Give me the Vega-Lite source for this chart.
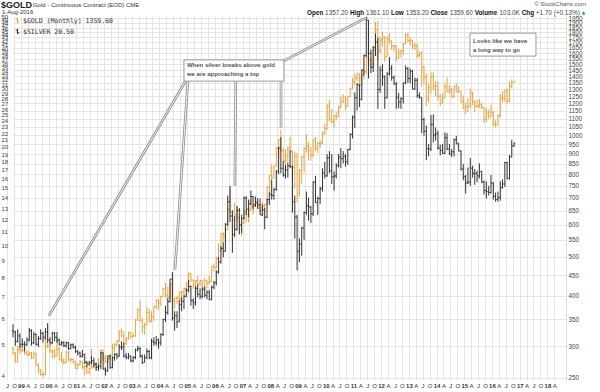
{
"$schema":"https://vega.github.io/schema/vega-lite/v6.json",
"width":553,"height":364,
"autosize":"none",
"padding":{"left":13,"top":16,"right":34,"bottom":12},
"background":"white",
"config":{"view":{"stroke":null},"font":"Liberation Sans"},
"datasets":{
"gold":[
{"d":"1998-07-01","o":296,"h":298,"l":286,"c":288},
{"d":"1998-08-01","o":288,"h":290,"l":273,"c":274},
{"d":"1998-09-01","o":274,"h":301,"l":273,"c":294},
{"d":"1998-10-01","o":294,"h":302,"l":287,"c":292},
{"d":"1998-11-01","o":292,"h":300,"l":290,"c":294},
{"d":"1998-12-01","o":294,"h":298,"l":285,"c":289},
{"d":"1999-01-01","o":289,"h":293,"l":283,"c":285},
{"d":"1999-02-01","o":285,"h":291,"l":284,"c":288},
{"d":"1999-03-01","o":288,"h":290,"l":278,"c":280},
{"d":"1999-04-01","o":280,"h":290,"l":279,"c":287},
{"d":"1999-05-01","o":287,"h":289,"l":268,"c":269},
{"d":"1999-06-01","o":269,"h":272,"l":256,"c":262},
{"d":"1999-07-01","o":262,"h":263,"l":253,"c":255},
{"d":"1999-08-01","o":255,"h":259,"l":251,"c":255},
{"d":"1999-09-01","o":255,"h":310,"l":254,"c":300},
{"d":"1999-10-01","o":300,"h":340,"l":296,"c":300},
{"d":"1999-11-01","o":300,"h":303,"l":288,"c":292},
{"d":"1999-12-01","o":292,"h":294,"l":280,"c":290},
{"d":"2000-01-01","o":290,"h":295,"l":280,"c":284},
{"d":"2000-02-01","o":284,"h":316,"l":283,"c":295},
{"d":"2000-03-01","o":295,"h":298,"l":276,"c":278},
{"d":"2000-04-01","o":278,"h":290,"l":273,"c":275},
{"d":"2000-05-01","o":275,"h":280,"l":270,"c":273},
{"d":"2000-06-01","o":273,"h":292,"l":272,"c":290},
{"d":"2000-07-01","o":290,"h":291,"l":276,"c":277},
{"d":"2000-08-01","o":277,"h":280,"l":273,"c":278},
{"d":"2000-09-01","o":278,"h":280,"l":271,"c":274},
{"d":"2000-10-01","o":274,"h":276,"l":263,"c":264},
{"d":"2000-11-01","o":264,"h":272,"l":263,"c":270},
{"d":"2000-12-01","o":270,"h":277,"l":268,"c":274},
{"d":"2001-01-01","o":274,"h":275,"l":263,"c":266},
{"d":"2001-02-01","o":266,"h":269,"l":254,"c":267},
{"d":"2001-03-01","o":267,"h":268,"l":256,"c":258},
{"d":"2001-04-01","o":258,"h":265,"l":255,"c":264},
{"d":"2001-05-01","o":264,"h":295,"l":264,"c":267},
{"d":"2001-06-01","o":267,"h":274,"l":264,"c":270},
{"d":"2001-07-01","o":270,"h":272,"l":262,"c":266},
{"d":"2001-08-01","o":266,"h":280,"l":266,"c":273},
{"d":"2001-09-01","o":273,"h":294,"l":271,"c":293},
{"d":"2001-10-01","o":293,"h":294,"l":276,"c":280},
{"d":"2001-11-01","o":280,"h":285,"l":272,"c":275},
{"d":"2001-12-01","o":275,"h":282,"l":272,"c":279},
{"d":"2002-01-01","o":279,"h":286,"l":277,"c":283},
{"d":"2002-02-01","o":283,"h":304,"l":282,"c":297},
{"d":"2002-03-01","o":297,"h":305,"l":290,"c":302},
{"d":"2002-04-01","o":302,"h":310,"l":299,"c":309},
{"d":"2002-05-01","o":309,"h":328,"l":307,"c":327},
{"d":"2002-06-01","o":327,"h":332,"l":316,"c":318},
{"d":"2002-07-01","o":318,"h":327,"l":302,"c":304},
{"d":"2002-08-01","o":304,"h":316,"l":302,"c":313},
{"d":"2002-09-01","o":313,"h":326,"l":311,"c":324},
{"d":"2002-10-01","o":324,"h":325,"l":312,"c":317},
{"d":"2002-11-01","o":317,"h":323,"l":316,"c":318},
{"d":"2002-12-01","o":318,"h":350,"l":316,"c":348},
{"d":"2003-01-01","o":348,"h":373,"l":346,"c":368},
{"d":"2003-02-01","o":368,"h":389,"l":345,"c":347},
{"d":"2003-03-01","o":347,"h":352,"l":322,"c":335},
{"d":"2003-04-01","o":335,"h":342,"l":320,"c":340},
{"d":"2003-05-01","o":340,"h":375,"l":337,"c":364},
{"d":"2003-06-01","o":364,"h":371,"l":342,"c":346},
{"d":"2003-07-01","o":346,"h":366,"l":343,"c":355},
{"d":"2003-08-01","o":355,"h":377,"l":346,"c":376},
{"d":"2003-09-01","o":376,"h":393,"l":370,"c":388},
{"d":"2003-10-01","o":388,"h":392,"l":369,"c":384},
{"d":"2003-11-01","o":384,"h":400,"l":377,"c":398},
{"d":"2003-12-01","o":398,"h":418,"l":398,"c":416},
{"d":"2004-01-01","o":416,"h":430,"l":396,"c":400},
{"d":"2004-02-01","o":400,"h":421,"l":392,"c":397},
{"d":"2004-03-01","o":397,"h":428,"l":392,"c":427},
{"d":"2004-04-01","o":427,"h":432,"l":383,"c":388},
{"d":"2004-05-01","o":388,"h":396,"l":372,"c":394},
{"d":"2004-06-01","o":394,"h":398,"l":382,"c":395},
{"d":"2004-07-01","o":395,"h":411,"l":386,"c":391},
{"d":"2004-08-01","o":391,"h":412,"l":388,"c":408},
{"d":"2004-09-01","o":408,"h":419,"l":400,"c":416},
{"d":"2004-10-01","o":416,"h":432,"l":409,"c":428},
{"d":"2004-11-01","o":428,"h":457,"l":427,"c":453},
{"d":"2004-12-01","o":453,"h":456,"l":432,"c":438},
{"d":"2005-01-01","o":438,"h":438,"l":416,"c":423},
{"d":"2005-02-01","o":423,"h":438,"l":411,"c":436},
{"d":"2005-03-01","o":436,"h":448,"l":425,"c":428},
{"d":"2005-04-01","o":428,"h":438,"l":421,"c":436},
{"d":"2005-05-01","o":436,"h":436,"l":414,"c":416},
{"d":"2005-06-01","o":416,"h":443,"l":414,"c":436},
{"d":"2005-07-01","o":436,"h":438,"l":417,"c":430},
{"d":"2005-08-01","o":430,"h":448,"l":428,"c":434},
{"d":"2005-09-01","o":434,"h":475,"l":432,"c":473},
{"d":"2005-10-01","o":473,"h":481,"l":459,"c":470},
{"d":"2005-11-01","o":470,"h":499,"l":467,"c":495},
{"d":"2005-12-01","o":495,"h":540,"l":491,"c":518},
{"d":"2006-01-01","o":518,"h":572,"l":515,"c":570},
{"d":"2006-02-01","o":570,"h":575,"l":538,"c":564},
{"d":"2006-03-01","o":564,"h":588,"l":542,"c":584},
{"d":"2006-04-01","o":584,"h":660,"l":584,"c":655},
{"d":"2006-05-01","o":655,"h":732,"l":640,"c":645},
{"d":"2006-06-01","o":645,"h":650,"l":543,"c":616},
{"d":"2006-07-01","o":616,"h":680,"l":615,"c":635},
{"d":"2006-08-01","o":635,"h":665,"l":612,"c":626},
{"d":"2006-09-01","o":626,"h":632,"l":573,"c":599},
{"d":"2006-10-01","o":599,"h":612,"l":563,"c":606},
{"d":"2006-11-01","o":606,"h":650,"l":602,"c":648},
{"d":"2006-12-01","o":648,"h":650,"l":610,"c":636},
{"d":"2007-01-01","o":636,"h":660,"l":608,"c":653},
{"d":"2007-02-01","o":653,"h":691,"l":650,"c":665},
{"d":"2007-03-01","o":665,"h":670,"l":636,"c":669},
{"d":"2007-04-01","o":669,"h":697,"l":667,"c":681},
{"d":"2007-05-01","o":681,"h":691,"l":656,"c":660},
{"d":"2007-06-01","o":660,"h":674,"l":642,"c":650},
{"d":"2007-07-01","o":650,"h":683,"l":647,"c":667},
{"d":"2007-08-01","o":667,"h":677,"l":650,"c":673},
{"d":"2007-09-01","o":673,"h":746,"l":670,"c":743},
{"d":"2007-10-01","o":743,"h":796,"l":727,"c":795},
{"d":"2007-11-01","o":795,"h":848,"l":780,"c":783},
{"d":"2007-12-01","o":783,"h":840,"l":783,"c":838},
{"d":"2008-01-01","o":838,"h":935,"l":838,"c":926},
{"d":"2008-02-01","o":926,"h":978,"l":880,"c":975},
{"d":"2008-03-01","o":975,"h":1033,"l":908,"c":917},
{"d":"2008-04-01","o":917,"h":933,"l":862,"c":865},
{"d":"2008-05-01","o":865,"h":923,"l":847,"c":887},
{"d":"2008-06-01","o":887,"h":939,"l":860,"c":930},
{"d":"2008-07-01","o":930,"h":991,"l":905,"c":914},
{"d":"2008-08-01","o":914,"h":917,"l":774,"c":833},
{"d":"2008-09-01","o":833,"h":912,"l":737,"c":884},
{"d":"2008-10-01","o":884,"h":905,"l":681,"c":718},
{"d":"2008-11-01","o":718,"h":824,"l":705,"c":819},
{"d":"2008-12-01","o":819,"h":889,"l":759,"c":884},
{"d":"2009-01-01","o":884,"h":936,"l":809,"c":927},
{"d":"2009-02-01","o":927,"h":1007,"l":907,"c":942},
{"d":"2009-03-01","o":942,"h":960,"l":866,"c":916},
{"d":"2009-04-01","o":916,"h":935,"l":865,"c":891},
{"d":"2009-05-01","o":891,"h":979,"l":885,"c":979},
{"d":"2009-06-01","o":979,"h":990,"l":914,"c":927},
{"d":"2009-07-01","o":927,"h":962,"l":904,"c":955},
{"d":"2009-08-01","o":955,"h":975,"l":931,"c":955},
{"d":"2009-09-01","o":955,"h":1024,"l":951,"c":1008},
{"d":"2009-10-01","o":1008,"h":1070,"l":1004,"c":1040},
{"d":"2009-11-01","o":1040,"h":1195,"l":1034,"c":1182},
{"d":"2009-12-01","o":1182,"h":1227,"l":1084,"c":1097},
{"d":"2010-01-01","o":1097,"h":1162,"l":1072,"c":1082},
{"d":"2010-02-01","o":1082,"h":1125,"l":1045,"c":1118},
{"d":"2010-03-01","o":1118,"h":1143,"l":1088,"c":1113},
{"d":"2010-04-01","o":1113,"h":1180,"l":1111,"c":1180},
{"d":"2010-05-01","o":1180,"h":1249,"l":1165,"c":1214},
{"d":"2010-06-01","o":1214,"h":1265,"l":1203,"c":1245},
{"d":"2010-07-01","o":1245,"h":1246,"l":1155,"c":1181},
{"d":"2010-08-01","o":1181,"h":1250,"l":1176,"c":1248},
{"d":"2010-09-01","o":1248,"h":1311,"l":1242,"c":1309},
{"d":"2010-10-01","o":1309,"h":1388,"l":1305,"c":1359},
{"d":"2010-11-01","o":1359,"h":1424,"l":1331,"c":1386},
{"d":"2010-12-01","o":1386,"h":1432,"l":1360,"c":1421},
{"d":"2011-01-01","o":1421,"h":1424,"l":1309,"c":1333},
{"d":"2011-02-01","o":1333,"h":1413,"l":1326,"c":1411},
{"d":"2011-03-01","o":1411,"h":1448,"l":1380,"c":1439},
{"d":"2011-04-01","o":1439,"h":1574,"l":1420,"c":1556},
{"d":"2011-05-01","o":1556,"h":1578,"l":1462,"c":1536},
{"d":"2011-06-01","o":1536,"h":1560,"l":1478,"c":1502},
{"d":"2011-07-01","o":1502,"h":1633,"l":1478,"c":1628},
{"d":"2011-08-01","o":1628,"h":1912,"l":1610,"c":1828},
{"d":"2011-09-01","o":1828,"h":1923,"l":1535,"c":1620},
{"d":"2011-10-01","o":1620,"h":1760,"l":1600,"c":1725},
{"d":"2011-11-01","o":1725,"h":1804,"l":1666,"c":1746},
{"d":"2011-12-01","o":1746,"h":1764,"l":1523,"c":1566},
{"d":"2012-01-01","o":1566,"h":1764,"l":1566,"c":1738},
{"d":"2012-02-01","o":1738,"h":1792,"l":1688,"c":1711},
{"d":"2012-03-01","o":1711,"h":1721,"l":1627,"c":1669},
{"d":"2012-04-01","o":1669,"h":1678,"l":1613,"c":1664},
{"d":"2012-05-01","o":1664,"h":1670,"l":1527,"c":1561},
{"d":"2012-06-01","o":1561,"h":1640,"l":1548,"c":1604},
{"d":"2012-07-01","o":1604,"h":1630,"l":1558,"c":1622},
{"d":"2012-08-01","o":1622,"h":1694,"l":1584,"c":1687},
{"d":"2012-09-01","o":1687,"h":1791,"l":1684,"c":1776},
{"d":"2012-10-01","o":1776,"h":1798,"l":1700,"c":1719},
{"d":"2012-11-01","o":1719,"h":1755,"l":1672,"c":1712},
{"d":"2012-12-01","o":1712,"h":1726,"l":1635,"c":1675},
{"d":"2013-01-01","o":1675,"h":1697,"l":1626,"c":1663},
{"d":"2013-02-01","o":1663,"h":1691,"l":1555,"c":1578},
{"d":"2013-03-01","o":1578,"h":1617,"l":1562,"c":1595},
{"d":"2013-04-01","o":1595,"h":1617,"l":1321,"c":1476},
{"d":"2013-05-01","o":1476,"h":1488,"l":1338,"c":1393},
{"d":"2013-06-01","o":1393,"h":1424,"l":1180,"c":1234},
{"d":"2013-07-01","o":1234,"h":1348,"l":1207,"c":1313},
{"d":"2013-08-01","o":1313,"h":1434,"l":1271,"c":1396},
{"d":"2013-09-01","o":1396,"h":1434,"l":1292,"c":1327},
{"d":"2013-10-01","o":1327,"h":1362,"l":1251,"c":1323},
{"d":"2013-11-01","o":1323,"h":1362,"l":1221,"c":1250},
{"d":"2013-12-01","o":1250,"h":1267,"l":1182,"c":1202},
{"d":"2014-01-01","o":1202,"h":1270,"l":1202,"c":1240},
{"d":"2014-02-01","o":1240,"h":1346,"l":1237,"c":1321},
{"d":"2014-03-01","o":1321,"h":1392,"l":1277,"c":1284},
{"d":"2014-04-01","o":1284,"h":1332,"l":1268,"c":1296},
{"d":"2014-05-01","o":1296,"h":1315,"l":1240,"c":1246},
{"d":"2014-06-01","o":1246,"h":1326,"l":1240,"c":1322},
{"d":"2014-07-01","o":1322,"h":1345,"l":1281,"c":1282},
{"d":"2014-08-01","o":1282,"h":1325,"l":1271,"c":1287},
{"d":"2014-09-01","o":1287,"h":1288,"l":1206,"c":1210},
{"d":"2014-10-01","o":1210,"h":1256,"l":1160,"c":1171},
{"d":"2014-11-01","o":1171,"h":1206,"l":1130,"c":1175},
{"d":"2014-12-01","o":1175,"h":1239,"l":1142,"c":1184},
{"d":"2015-01-01","o":1184,"h":1307,"l":1167,"c":1278},
{"d":"2015-02-01","o":1278,"h":1282,"l":1190,"c":1213},
{"d":"2015-03-01","o":1213,"h":1224,"l":1142,"c":1183},
{"d":"2015-04-01","o":1183,"h":1225,"l":1167,"c":1183},
{"d":"2015-05-01","o":1183,"h":1232,"l":1168,"c":1190},
{"d":"2015-06-01","o":1190,"h":1206,"l":1162,"c":1172},
{"d":"2015-07-01","o":1172,"h":1175,"l":1072,"c":1095},
{"d":"2015-08-01","o":1095,"h":1171,"l":1077,"c":1135},
{"d":"2015-09-01","o":1135,"h":1158,"l":1098,"c":1115},
{"d":"2015-10-01","o":1115,"h":1192,"l":1110,"c":1142},
{"d":"2015-11-01","o":1142,"h":1147,"l":1052,"c":1065},
{"d":"2015-12-01","o":1065,"h":1089,"l":1046,"c":1061},
{"d":"2016-01-01","o":1061,"h":1129,"l":1058,"c":1118},
{"d":"2016-02-01","o":1118,"h":1264,"l":1107,"c":1238},
{"d":"2016-03-01","o":1238,"h":1287,"l":1208,"c":1233},
{"d":"2016-04-01","o":1233,"h":1298,"l":1209,"c":1290},
{"d":"2016-05-01","o":1290,"h":1306,"l":1200,"c":1216},
{"d":"2016-06-01","o":1216,"h":1362,"l":1208,"c":1322},
{"d":"2016-07-01","o":1322,"h":1377,"l":1310,"c":1351},
{"d":"2016-08-01","o":1357.2,"h":1361.1,"l":1353.2,"c":1359.6}
],
"silver":[
{"d":"1998-07-01","o":5.5,"h":5.75,"l":5.25,"c":5.45},
{"d":"1998-08-01","o":5.45,"h":5.5,"l":4.95,"c":5.1},
{"d":"1998-09-01","o":5.1,"h":5.55,"l":5.05,"c":5.3},
{"d":"1998-10-01","o":5.3,"h":5.4,"l":4.85,"c":5.0},
{"d":"1998-11-01","o":5.0,"h":5.2,"l":4.9,"c":5.0},
{"d":"1998-12-01","o":5.0,"h":5.1,"l":4.75,"c":4.98},
{"d":"1999-01-01","o":4.98,"h":5.25,"l":4.95,"c":5.15},
{"d":"1999-02-01","o":5.15,"h":5.6,"l":5.1,"c":5.5},
{"d":"1999-03-01","o":5.5,"h":5.55,"l":4.95,"c":5.05},
{"d":"1999-04-01","o":5.05,"h":5.45,"l":5.0,"c":5.35},
{"d":"1999-05-01","o":5.35,"h":5.4,"l":4.95,"c":5.0},
{"d":"1999-06-01","o":5.0,"h":5.3,"l":4.9,"c":5.2},
{"d":"1999-07-01","o":5.2,"h":5.55,"l":5.15,"c":5.4},
{"d":"1999-08-01","o":5.4,"h":5.45,"l":5.05,"c":5.25},
{"d":"1999-09-01","o":5.25,"h":5.6,"l":5.15,"c":5.45},
{"d":"1999-10-01","o":5.45,"h":5.8,"l":5.05,"c":5.15},
{"d":"1999-11-01","o":5.15,"h":5.25,"l":4.98,"c":5.05},
{"d":"1999-12-01","o":5.05,"h":5.45,"l":5.0,"c":5.4},
{"d":"2000-01-01","o":5.4,"h":5.45,"l":5.1,"c":5.25},
{"d":"2000-02-01","o":5.25,"h":5.45,"l":5.05,"c":5.15},
{"d":"2000-03-01","o":5.15,"h":5.2,"l":4.95,"c":5.0},
{"d":"2000-04-01","o":5.0,"h":5.12,"l":4.95,"c":5.05},
{"d":"2000-05-01","o":5.05,"h":5.1,"l":4.9,"c":4.95},
{"d":"2000-06-01","o":4.95,"h":5.1,"l":4.88,"c":5.05},
{"d":"2000-07-01","o":5.05,"h":5.08,"l":4.8,"c":4.85},
{"d":"2000-08-01","o":4.85,"h":5.02,"l":4.82,"c":4.98},
{"d":"2000-09-01","o":4.98,"h":5.03,"l":4.85,"c":4.9},
{"d":"2000-10-01","o":4.9,"h":4.95,"l":4.7,"c":4.75},
{"d":"2000-11-01","o":4.75,"h":4.8,"l":4.62,"c":4.7},
{"d":"2000-12-01","o":4.7,"h":4.75,"l":4.55,"c":4.6},
{"d":"2001-01-01","o":4.6,"h":4.8,"l":4.55,"c":4.65},
{"d":"2001-02-01","o":4.65,"h":4.68,"l":4.35,"c":4.4},
{"d":"2001-03-01","o":4.4,"h":4.45,"l":4.25,"c":4.35},
{"d":"2001-04-01","o":4.35,"h":4.45,"l":4.3,"c":4.4},
{"d":"2001-05-01","o":4.4,"h":4.6,"l":4.35,"c":4.45},
{"d":"2001-06-01","o":4.45,"h":4.55,"l":4.25,"c":4.35},
{"d":"2001-07-01","o":4.35,"h":4.4,"l":4.15,"c":4.25},
{"d":"2001-08-01","o":4.25,"h":4.35,"l":4.15,"c":4.28},
{"d":"2001-09-01","o":4.28,"h":4.75,"l":4.2,"c":4.7},
{"d":"2001-10-01","o":4.7,"h":4.72,"l":4.18,"c":4.2},
{"d":"2001-11-01","o":4.2,"h":4.25,"l":4.01,"c":4.15},
{"d":"2001-12-01","o":4.15,"h":4.62,"l":4.12,"c":4.6},
{"d":"2002-01-01","o":4.6,"h":4.65,"l":4.2,"c":4.25},
{"d":"2002-02-01","o":4.25,"h":4.58,"l":4.22,"c":4.55},
{"d":"2002-03-01","o":4.55,"h":4.7,"l":4.45,"c":4.65},
{"d":"2002-04-01","o":4.65,"h":4.7,"l":4.5,"c":4.6},
{"d":"2002-05-01","o":4.6,"h":5.0,"l":4.58,"c":4.9},
{"d":"2002-06-01","o":4.9,"h":5.1,"l":4.8,"c":4.9},
{"d":"2002-07-01","o":4.9,"h":5.05,"l":4.55,"c":4.6},
{"d":"2002-08-01","o":4.6,"h":4.7,"l":4.5,"c":4.55},
{"d":"2002-09-01","o":4.55,"h":4.7,"l":4.5,"c":4.6},
{"d":"2002-10-01","o":4.6,"h":4.62,"l":4.4,"c":4.45},
{"d":"2002-11-01","o":4.45,"h":4.6,"l":4.4,"c":4.55},
{"d":"2002-12-01","o":4.55,"h":4.85,"l":4.5,"c":4.8},
{"d":"2003-01-01","o":4.8,"h":4.95,"l":4.75,"c":4.85},
{"d":"2003-02-01","o":4.85,"h":4.9,"l":4.55,"c":4.6},
{"d":"2003-03-01","o":4.6,"h":4.65,"l":4.35,"c":4.4},
{"d":"2003-04-01","o":4.4,"h":4.65,"l":4.4,"c":4.55},
{"d":"2003-05-01","o":4.55,"h":4.85,"l":4.5,"c":4.75},
{"d":"2003-06-01","o":4.75,"h":4.8,"l":4.5,"c":4.55},
{"d":"2003-07-01","o":4.55,"h":5.2,"l":4.5,"c":5.1},
{"d":"2003-08-01","o":5.1,"h":5.25,"l":4.95,"c":5.05},
{"d":"2003-09-01","o":5.05,"h":5.3,"l":4.95,"c":5.15},
{"d":"2003-10-01","o":5.15,"h":5.2,"l":4.85,"c":5.05},
{"d":"2003-11-01","o":5.05,"h":5.4,"l":4.95,"c":5.35},
{"d":"2003-12-01","o":5.35,"h":5.98,"l":5.3,"c":5.95},
{"d":"2004-01-01","o":5.95,"h":6.55,"l":5.85,"c":6.25},
{"d":"2004-02-01","o":6.25,"h":6.9,"l":6.15,"c":6.75},
{"d":"2004-03-01","o":6.75,"h":7.9,"l":6.7,"c":7.9},
{"d":"2004-04-01","o":7.9,"h":8.3,"l":5.9,"c":6.0},
{"d":"2004-05-01","o":6.0,"h":6.3,"l":5.5,"c":6.1},
{"d":"2004-06-01","o":6.1,"h":6.3,"l":5.6,"c":5.85},
{"d":"2004-07-01","o":5.85,"h":6.8,"l":5.85,"c":6.6},
{"d":"2004-08-01","o":6.6,"h":6.95,"l":6.3,"c":6.75},
{"d":"2004-09-01","o":6.75,"h":7.05,"l":6.4,"c":7.0},
{"d":"2004-10-01","o":7.0,"h":7.4,"l":6.95,"c":7.3},
{"d":"2004-11-01","o":7.3,"h":7.85,"l":7.2,"c":7.5},
{"d":"2004-12-01","o":7.5,"h":7.55,"l":6.55,"c":6.8},
{"d":"2005-01-01","o":6.8,"h":6.9,"l":6.4,"c":6.7},
{"d":"2005-02-01","o":6.7,"h":7.5,"l":6.55,"c":7.4},
{"d":"2005-03-01","o":7.4,"h":7.6,"l":6.95,"c":7.1},
{"d":"2005-04-01","o":7.1,"h":7.4,"l":6.85,"c":7.0},
{"d":"2005-05-01","o":7.0,"h":7.45,"l":6.9,"c":7.35},
{"d":"2005-06-01","o":7.35,"h":7.5,"l":6.95,"c":7.05},
{"d":"2005-07-01","o":7.05,"h":7.3,"l":6.85,"c":7.2},
{"d":"2005-08-01","o":7.2,"h":7.3,"l":6.8,"c":6.85},
{"d":"2005-09-01","o":6.85,"h":7.55,"l":6.8,"c":7.45},
{"d":"2005-10-01","o":7.45,"h":7.8,"l":7.35,"c":7.7},
{"d":"2005-11-01","o":7.7,"h":8.4,"l":7.55,"c":8.3},
{"d":"2005-12-01","o":8.3,"h":9.2,"l":8.2,"c":8.9},
{"d":"2006-01-01","o":8.9,"h":9.95,"l":8.8,"c":9.8},
{"d":"2006-02-01","o":9.8,"h":10.2,"l":9.2,"c":9.6},
{"d":"2006-03-01","o":9.6,"h":11.7,"l":9.6,"c":11.6},
{"d":"2006-04-01","o":11.6,"h":14.2,"l":11.5,"c":13.6},
{"d":"2006-05-01","o":13.6,"h":15.2,"l":11.8,"c":12.3},
{"d":"2006-06-01","o":12.3,"h":12.8,"l":9.5,"c":10.8},
{"d":"2006-07-01","o":10.8,"h":12.3,"l":10.6,"c":11.2},
{"d":"2006-08-01","o":11.2,"h":13.2,"l":11.1,"c":12.8},
{"d":"2006-09-01","o":12.8,"h":13.0,"l":10.8,"c":11.55},
{"d":"2006-10-01","o":11.55,"h":12.4,"l":10.9,"c":12.1},
{"d":"2006-11-01","o":12.1,"h":14.1,"l":12.0,"c":13.95},
{"d":"2006-12-01","o":13.95,"h":14.15,"l":12.4,"c":12.9},
{"d":"2007-01-01","o":12.9,"h":13.8,"l":12.2,"c":13.4},
{"d":"2007-02-01","o":13.4,"h":14.7,"l":13.3,"c":14.1},
{"d":"2007-03-01","o":14.1,"h":14.15,"l":12.9,"c":13.3},
{"d":"2007-04-01","o":13.3,"h":14.1,"l":13.1,"c":13.5},
{"d":"2007-05-01","o":13.5,"h":13.95,"l":12.95,"c":13.3},
{"d":"2007-06-01","o":13.3,"h":13.9,"l":12.4,"c":12.4},
{"d":"2007-07-01","o":12.4,"h":13.35,"l":12.3,"c":12.85},
{"d":"2007-08-01","o":12.85,"h":13.0,"l":11.2,"c":12.2},
{"d":"2007-09-01","o":12.2,"h":13.9,"l":12.1,"c":13.8},
{"d":"2007-10-01","o":13.8,"h":14.6,"l":13.3,"c":14.3},
{"d":"2007-11-01","o":14.3,"h":15.9,"l":13.8,"c":14.2},
{"d":"2007-12-01","o":14.2,"h":15.0,"l":13.8,"c":14.8},
{"d":"2008-01-01","o":14.8,"h":17.0,"l":14.7,"c":16.8},
{"d":"2008-02-01","o":16.8,"h":20.0,"l":16.5,"c":19.8},
{"d":"2008-03-01","o":19.8,"h":21.4,"l":16.6,"c":17.2},
{"d":"2008-04-01","o":17.2,"h":18.1,"l":16.2,"c":16.4},
{"d":"2008-05-01","o":16.4,"h":17.6,"l":16.0,"c":17.0},
{"d":"2008-06-01","o":17.0,"h":17.9,"l":16.1,"c":17.5},
{"d":"2008-07-01","o":17.5,"h":19.5,"l":17.2,"c":17.4},
{"d":"2008-08-01","o":17.4,"h":17.5,"l":12.6,"c":13.6},
{"d":"2008-09-01","o":13.6,"h":14.2,"l":10.5,"c":12.2},
{"d":"2008-10-01","o":12.2,"h":12.4,"l":8.4,"c":9.6},
{"d":"2008-11-01","o":9.6,"h":10.5,"l":8.9,"c":10.1},
{"d":"2008-12-01","o":10.1,"h":11.4,"l":9.3,"c":11.3},
{"d":"2009-01-01","o":11.3,"h":12.7,"l":10.4,"c":12.6},
{"d":"2009-02-01","o":12.6,"h":14.6,"l":12.4,"c":13.2},
{"d":"2009-03-01","o":13.2,"h":14.0,"l":11.9,"c":13.1},
{"d":"2009-04-01","o":13.1,"h":13.2,"l":11.7,"c":12.5},
{"d":"2009-05-01","o":12.5,"h":15.7,"l":12.3,"c":15.6},
{"d":"2009-06-01","o":15.6,"h":16.3,"l":13.5,"c":13.5},
{"d":"2009-07-01","o":13.5,"h":14.1,"l":12.4,"c":13.9},
{"d":"2009-08-01","o":13.9,"h":15.1,"l":13.4,"c":14.9},
{"d":"2009-09-01","o":14.9,"h":17.2,"l":14.6,"c":16.6},
{"d":"2009-10-01","o":16.6,"h":18.0,"l":16.0,"c":16.3},
{"d":"2009-11-01","o":16.3,"h":19.0,"l":16.2,"c":18.5},
{"d":"2009-12-01","o":18.5,"h":19.4,"l":16.6,"c":16.9},
{"d":"2010-01-01","o":16.9,"h":19.0,"l":15.4,"c":16.2},
{"d":"2010-02-01","o":16.2,"h":16.8,"l":14.7,"c":16.3},
{"d":"2010-03-01","o":16.3,"h":17.8,"l":16.0,"c":17.5},
{"d":"2010-04-01","o":17.5,"h":19.0,"l":17.3,"c":18.6},
{"d":"2010-05-01","o":18.6,"h":19.8,"l":17.2,"c":18.4},
{"d":"2010-06-01","o":18.4,"h":19.4,"l":17.8,"c":18.7},
{"d":"2010-07-01","o":18.7,"h":19.0,"l":17.4,"c":18.0},
{"d":"2010-08-01","o":18.0,"h":19.7,"l":17.6,"c":19.6},
{"d":"2010-09-01","o":19.6,"h":22.0,"l":19.5,"c":21.8},
{"d":"2010-10-01","o":21.8,"h":24.9,"l":21.2,"c":24.6},
{"d":"2010-11-01","o":24.6,"h":29.3,"l":22.8,"c":28.2},
{"d":"2010-12-01","o":28.2,"h":31.3,"l":25.8,"c":30.9},
{"d":"2011-01-01","o":30.9,"h":31.0,"l":26.4,"c":27.9},
{"d":"2011-02-01","o":27.9,"h":34.4,"l":27.7,"c":34.3},
{"d":"2011-03-01","o":34.3,"h":38.2,"l":33.0,"c":37.9},
{"d":"2011-04-01","o":37.9,"h":49.8,"l":37.6,"c":48.6},
{"d":"2011-05-01","o":48.6,"h":48.7,"l":32.3,"c":38.5},
{"d":"2011-06-01","o":38.5,"h":39.6,"l":33.5,"c":34.9},
{"d":"2011-07-01","o":34.9,"h":40.6,"l":33.8,"c":40.1},
{"d":"2011-08-01","o":40.1,"h":44.3,"l":37.8,"c":41.7},
{"d":"2011-09-01","o":41.7,"h":43.0,"l":26.1,"c":29.9},
{"d":"2011-10-01","o":29.9,"h":35.2,"l":29.2,"c":34.2},
{"d":"2011-11-01","o":34.2,"h":35.7,"l":30.7,"c":32.7},
{"d":"2011-12-01","o":32.7,"h":33.0,"l":26.1,"c":28.2},
{"d":"2012-01-01","o":28.2,"h":33.8,"l":28.1,"c":33.3},
{"d":"2012-02-01","o":33.3,"h":37.5,"l":33.0,"c":34.6},
{"d":"2012-03-01","o":34.6,"h":35.5,"l":31.8,"c":32.5},
{"d":"2012-04-01","o":32.5,"h":33.0,"l":30.9,"c":31.1},
{"d":"2012-05-01","o":31.1,"h":31.5,"l":26.1,"c":28.3},
{"d":"2012-06-01","o":28.3,"h":29.2,"l":26.2,"c":27.4},
{"d":"2012-07-01","o":27.4,"h":28.3,"l":26.1,"c":28.0},
{"d":"2012-08-01","o":28.0,"h":31.4,"l":27.1,"c":31.3},
{"d":"2012-09-01","o":31.3,"h":35.4,"l":31.0,"c":34.6},
{"d":"2012-10-01","o":34.6,"h":35.0,"l":31.3,"c":32.3},
{"d":"2012-11-01","o":32.3,"h":34.6,"l":31.2,"c":34.0},
{"d":"2012-12-01","o":34.0,"h":34.3,"l":29.9,"c":30.0},
{"d":"2013-01-01","o":30.0,"h":32.5,"l":29.8,"c":31.9},
{"d":"2013-02-01","o":31.9,"h":32.4,"l":28.2,"c":28.6},
{"d":"2013-03-01","o":28.6,"h":29.3,"l":28.0,"c":28.3},
{"d":"2013-04-01","o":28.3,"h":28.3,"l":22.0,"c":24.2},
{"d":"2013-05-01","o":24.2,"h":24.5,"l":21.6,"c":22.3},
{"d":"2013-06-01","o":22.3,"h":23.2,"l":18.2,"c":19.7},
{"d":"2013-07-01","o":19.7,"h":20.4,"l":18.7,"c":19.7},
{"d":"2013-08-01","o":19.7,"h":25.0,"l":19.4,"c":23.4},
{"d":"2013-09-01","o":23.4,"h":25.1,"l":20.6,"c":21.7},
{"d":"2013-10-01","o":21.7,"h":22.9,"l":20.9,"c":21.9},
{"d":"2013-11-01","o":21.9,"h":22.4,"l":19.6,"c":19.8},
{"d":"2013-12-01","o":19.8,"h":20.3,"l":18.8,"c":19.5},
{"d":"2014-01-01","o":19.5,"h":20.4,"l":19.0,"c":19.1},
{"d":"2014-02-01","o":19.1,"h":22.1,"l":19.0,"c":21.3},
{"d":"2014-03-01","o":21.3,"h":22.0,"l":19.5,"c":19.7},
{"d":"2014-04-01","o":19.7,"h":20.4,"l":18.9,"c":19.0},
{"d":"2014-05-01","o":19.0,"h":19.7,"l":18.6,"c":19.3},
{"d":"2014-06-01","o":19.3,"h":21.2,"l":18.7,"c":21.0},
{"d":"2014-07-01","o":21.0,"h":21.6,"l":20.4,"c":20.4},
{"d":"2014-08-01","o":20.4,"h":20.6,"l":19.4,"c":19.4},
{"d":"2014-09-01","o":19.4,"h":19.5,"l":16.9,"c":17.1},
{"d":"2014-10-01","o":17.1,"h":17.7,"l":15.8,"c":16.2},
{"d":"2014-11-01","o":16.2,"h":16.4,"l":14.4,"c":15.5},
{"d":"2014-12-01","o":15.5,"h":17.3,"l":15.4,"c":15.6},
{"d":"2015-01-01","o":15.6,"h":18.5,"l":15.2,"c":17.2},
{"d":"2015-02-01","o":17.2,"h":17.5,"l":16.1,"c":16.6},
{"d":"2015-03-01","o":16.6,"h":17.1,"l":15.3,"c":16.6},
{"d":"2015-04-01","o":16.6,"h":16.9,"l":15.6,"c":16.3},
{"d":"2015-05-01","o":16.3,"h":17.8,"l":16.0,"c":16.8},
{"d":"2015-06-01","o":16.8,"h":16.9,"l":15.5,"c":15.6},
{"d":"2015-07-01","o":15.6,"h":15.8,"l":14.3,"c":14.7},
{"d":"2015-08-01","o":14.7,"h":15.7,"l":13.9,"c":14.6},
{"d":"2015-09-01","o":14.6,"h":15.2,"l":14.2,"c":14.5},
{"d":"2015-10-01","o":14.5,"h":16.4,"l":14.4,"c":15.5},
{"d":"2015-11-01","o":15.5,"h":15.6,"l":13.8,"c":14.1},
{"d":"2015-12-01","o":14.1,"h":14.5,"l":13.6,"c":13.8},
{"d":"2016-01-01","o":13.8,"h":14.6,"l":13.6,"c":14.0},
{"d":"2016-02-01","o":14.0,"h":15.7,"l":13.7,"c":15.0},
{"d":"2016-03-01","o":15.0,"h":15.9,"l":14.9,"c":15.4},
{"d":"2016-04-01","o":15.4,"h":18.0,"l":15.1,"c":17.9},
{"d":"2016-05-01","o":17.9,"h":18.0,"l":15.9,"c":16.0},
{"d":"2016-06-01","o":16.0,"h":18.9,"l":15.9,"c":18.6},
{"d":"2016-07-01","o":18.6,"h":21.0,"l":18.6,"c":20.1},
{"d":"2016-08-01","o":20.1,"h":20.6,"l":20.0,"c":20.5}
],
"lines":[
{"da":"1999-10-17","va":6.1,"db":"2004-09-27","vb":31.9},
{"da":"2004-05-05","va":8.42,"db":"2004-10-23","vb":31.9},
{"da":"2006-07-03","va":15.2,"db":"2006-07-16","vb":31.9},
{"da":"2008-03-03","va":22.8,"db":"2008-03-03","vb":31.9},
{"da":"2008-03-16","va":36.3,"db":"2011-03-28","vb":49.4}
],
"boxes":[
{"da":"2004-09-01","db":"2008-04-11","va":31.7,"vb":36.8},
{"da":"2014-12-28","db":"2017-05-16","va":37.8,"vb":44.4}
],
"notes":[
{"d":"2004-10-10","v":35.5,"t":"When silver breaks above gold"},
{"d":"2004-10-10","v":33.3,"t":"we are approaching a top"},
{"d":"2015-02-06","v":42.0,"t":"Looks like we have"},
{"d":"2015-02-06","v":39.4,"t":"a long way to go"}
],
"headBold":[
{"d":"2009-02-10","v":2012,"t":"Open"},
{"d":"2010-08-30","v":2012,"t":"High"},
{"d":"2012-02-21","v":2012,"t":"Low"},
{"d":"2013-07-25","v":2012,"t":"Close"},
{"d":"2015-02-28","v":2012,"t":"Volume"},
{"d":"2016-11-09","v":2012,"t":"Chg"}
],
"headNorm":[
{"d":"2009-10-05","v":2012,"t":"1357.20"},
{"d":"2011-03-28","v":2012,"t":"1361.10"},
{"d":"2012-09-01","v":2012,"t":"1353.20"},
{"d":"2014-04-04","v":2012,"t":"1359.60"},
{"d":"2016-01-22","v":2012,"t":"103.0K"},
{"d":"2017-05-13","v":2012,"t":"+1.70 (+0.13%)"}
]
},
"layer":[
{
"layer":[
{"data":{"name":"gold"},"mark":{"type":"rule","strokeWidth":1},
 "encoding":{
  "x":{"field":"d","type":"temporal","scale":{"domain":[{"year":1998,"month":7,"date":1},{"year":2018,"month":6,"date":16}]},
   "axis":{"orient":"bottom","title":null,"tickCount":{"interval":"month","step":3},"tickOffset":-6,"grid":true,"gridColor":"#dedede","gridWidth":0.8,"ticks":false,"domain":false,"labelFontSize":6,"labelPadding":2,"labelOverlap":false,"labelFlush":false,"labelColor":"#333","labelFont":"Liberation Sans",
    "labelExpr":"month(datum.value)==0 ? timeFormat(datum.value,'%y') : substring(timeFormat(datum.value,'%b'),0,1)",
    "labelFontWeight":{"condition":{"test":"month(datum.value)==0","value":"bold"},"value":"normal"}}},
  "y":{"field":"h","type":"quantitative","scale":{"type":"log","domain":[247.1,1977.5],"nice":false,"zero":false},
   "axis":{"orient":"right","title":null,"values":[250,300,350,400,450,500,550,600,650,700,750,800,850,900,950,1000,1050,1100,1150,1200,1250,1300,1350,1400,1450,1500,1550,1600,1650,1700,1750,1800,1850,1900,1950],"format":"d","grid":true,"gridColor":"#dedede","gridWidth":0.8,"ticks":false,"domain":true,"domainColor":"#bbbbbb","domainDash":[1,1],"labelFontSize":6.3,"labelColor":"#444","labelPadding":2,"labelOverlap":false,"labelFlush":false,"labelFont":"Liberation Sans"}},
  "y2":{"field":"l"},
  "color":{"datum":"$GOLD (Monthly) 1359.60","type":"nominal","scale":{"domain":["$GOLD (Monthly) 1359.60","$SILVER 20.50"],"range":["#e9a33a","#333333"]},
   "legend":{"title":null,"orient":"top-left","offset":1,"padding":0,"rowPadding":0,"labelFontSize":6.5,"labelFont":"DejaVu Sans Mono","labelColor":"#333","labelOffset":2,"symbolType":"M0,-1V1M-0.7,-0.5H0M0,0.5H0.7","symbolSize":28,"symbolStrokeWidth":1}}
 }},
{"data":{"name":"gold"},"mark":{"type":"rule","strokeWidth":1,"xOffset":-1.1,"x2Offset":0},
 "encoding":{"x":{"field":"d","type":"temporal"},"x2":{"field":"d"},"y":{"field":"o","type":"quantitative"},"color":{"datum":"$GOLD (Monthly) 1359.60","type":"nominal"}}},
{"data":{"name":"gold"},"mark":{"type":"rule","strokeWidth":1,"xOffset":0,"x2Offset":1.1},
 "encoding":{"x":{"field":"d","type":"temporal"},"x2":{"field":"d"},"y":{"field":"c","type":"quantitative"},"color":{"datum":"$GOLD (Monthly) 1359.60","type":"nominal"}}},
{"data":{"values":[{"d":"1998-01-23","v":2106,"t":"$GOLD"}]},"mark":{"type":"text","align":"left","baseline":"middle","fontSize":9,"fontWeight":"bold","color":"#222","font":"Liberation Sans"},
 "encoding":{"x":{"field":"d","type":"temporal"},"y":{"field":"v","type":"quantitative"},"text":{"field":"t"}}},
{"data":{"values":[{"d":"1999-03-21","v":2106,"t":"Gold - Continuous Contract (EOD) CME"},{"d":"1998-02-05","v":2023,"t":"1-Aug-2016"}]},"mark":{"type":"text","align":"left","baseline":"middle","fontSize":6,"color":"#333","font":"Liberation Sans"},
 "encoding":{"x":{"field":"d","type":"temporal"},"y":{"field":"v","type":"quantitative"},"text":{"field":"t"}}},
{"data":{"values":[{"d":"2019-03-07","v":2118,"t":"© StockCharts.com"}]},"mark":{"type":"text","align":"right","baseline":"middle","fontSize":6,"color":"#555","font":"Liberation Sans"},
 "encoding":{"x":{"field":"d","type":"temporal"},"y":{"field":"v","type":"quantitative"},"text":{"field":"t"}}},
{"data":{"name":"headBold"},"mark":{"type":"text","align":"left","baseline":"middle","fontSize":6.4,"fontWeight":"bold","color":"#111","font":"Liberation Sans"},
 "encoding":{"x":{"field":"d","type":"temporal"},"y":{"field":"v","type":"quantitative"},"text":{"field":"t"}}},
{"data":{"name":"headNorm"},"mark":{"type":"text","align":"left","baseline":"middle","fontSize":6.4,"color":"#444","font":"Liberation Sans"},
 "encoding":{"x":{"field":"d","type":"temporal"},"y":{"field":"v","type":"quantitative"},"text":{"field":"t"}}},
{"data":{"values":[{"d":"2019-01-08","v":2012,"t":"▲"}]},"mark":{"type":"text","align":"left","baseline":"middle","fontSize":4.5,"color":"#2e9a3a","font":"DejaVu Sans"},
 "encoding":{"x":{"field":"d","type":"temporal"},"y":{"field":"v","type":"quantitative"},"text":{"field":"t"}}}
]
},
{
"layer":[
{"data":{"name":"silver"},"mark":{"type":"rule","strokeWidth":1},
 "encoding":{
  "x":{"field":"d","type":"temporal"},
  "y":{"field":"h","type":"quantitative","scale":{"type":"log","domain":[3.889,50.08],"nice":false,"zero":false},
   "axis":{"orient":"left","title":null,"values":[4,5,6,7,8,9,10,11,12,13,14,15,16,17,18,19,20,21,22,23,24,25,26,27,28,29,30,31,32,33,34,35,36,37,38,39,40,41,42,43,44,45,46,47,48,49,50],"format":"d","grid":false,"ticks":false,"tickSize":0,"domain":false,"labelAlign":"left","labelPadding":12,"labelFontSize":6,"labelColor":"#444","labelOverlap":false,"labelFlush":false,"labelFont":"Liberation Sans"}},
  "y2":{"field":"l"},
  "color":{"datum":"$SILVER 20.50","type":"nominal"}
 }},
{"data":{"name":"silver"},"mark":{"type":"rule","strokeWidth":1,"xOffset":-1.1,"x2Offset":0},
 "encoding":{"x":{"field":"d","type":"temporal"},"x2":{"field":"d"},"y":{"field":"o","type":"quantitative"},"color":{"datum":"$SILVER 20.50","type":"nominal"}}},
{"data":{"name":"silver"},"mark":{"type":"rule","strokeWidth":1,"xOffset":0,"x2Offset":1.1},
 "encoding":{"x":{"field":"d","type":"temporal"},"x2":{"field":"d"},"y":{"field":"c","type":"quantitative"},"color":{"datum":"$SILVER 20.50","type":"nominal"}}},
{"data":{"name":"lines"},"mark":{"type":"rule","stroke":"#8c8c8c","strokeWidth":2.6},
 "encoding":{"x":{"field":"da","type":"temporal"},"x2":{"field":"db"},"y":{"field":"va","type":"quantitative"},"y2":{"field":"vb"}}},
{"data":{"name":"lines"},"mark":{"type":"rule","stroke":"#ffffff","strokeWidth":0.9},
 "encoding":{"x":{"field":"da","type":"temporal"},"x2":{"field":"db"},"y":{"field":"va","type":"quantitative"},"y2":{"field":"vb"}}},
{"data":{"name":"boxes"},"mark":{"type":"rect","fill":"white","stroke":"#9a9a9a","strokeWidth":1},
 "encoding":{"x":{"field":"da","type":"temporal"},"x2":{"field":"db"},"y":{"field":"va","type":"quantitative"},"y2":{"field":"vb"}}},
{"data":{"name":"notes"},"mark":{"type":"text","align":"left","baseline":"middle","fontSize":6,"fontWeight":"bold","color":"#555","font":"Liberation Sans"},
 "encoding":{"x":{"field":"d","type":"temporal"},"y":{"field":"v","type":"quantitative"},"text":{"field":"t"}}}
]
}
],
"resolve":{"scale":{"y":"independent"},"axis":{"y":"independent"}}
}
